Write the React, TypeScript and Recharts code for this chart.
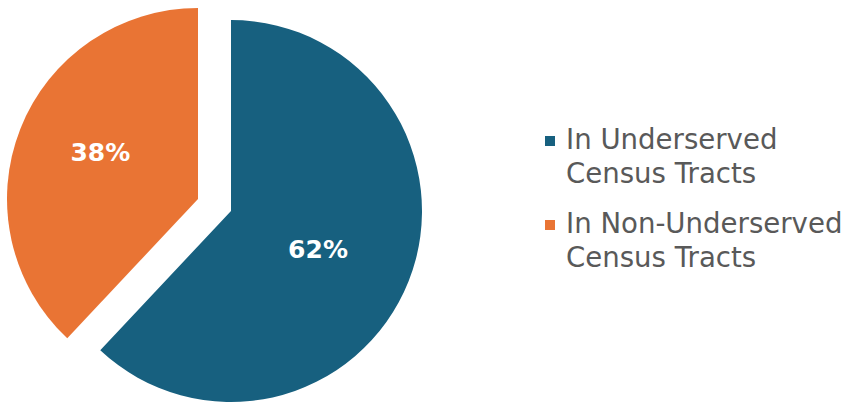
import React from "react";
import { Cell, Legend, Pie, PieChart } from "recharts";

const categories = ["In Underserved Census Tracts", "In Non-Underserved Census Tracts"];
const legendLines = [
  ["In Underserved", "Census Tracts"],
  ["In Non-Underserved", "Census Tracts"],
];
const values = [62, 38];
const colors = ["#17607f", "#e97434"];

const data = categories.map((name, i) => ({ name, value: values[i] }));

const RAD = Math.PI / 180;

// only the slice with index `show` is drawn by each pie; the other one is exploded
function makeLabel(show: number, frac: number, dy: number) {
  return (props: any) => {
    if (props.index !== show) return null;
    const { cx, cy, midAngle, outerRadius, value } = props;
    const r = outerRadius * frac;
    const x = cx + r * Math.cos(-midAngle * RAD);
    const y = cy + r * Math.sin(-midAngle * RAD) + dy;
    return (
      <text
        x={x}
        y={y}
        fill="#ffffff"
        textAnchor="middle"
        dominantBaseline="central"
        fontFamily="DejaVu Sans"
        fontWeight="bold"
        fontSize={25}
      >
        {`${value}%`}
      </text>
    );
  };
}

function LegendBox() {
  return (
    <div style={{ fontFamily: "DejaVu Sans", fontSize: 27.6, color: "#595959", lineHeight: "34px" }}>
      {legendLines.map((lines, i) => (
        <div key={i} style={{ display: "flex", marginBottom: 16 }}>
          <div style={{ width: 10, height: 10, background: colors[i], marginTop: 13, marginRight: 11 }} />
          <div>
            {lines.map((l) => (
              <div key={l}>{l}</div>
            ))}
          </div>
        </div>
      ))}
    </div>
  );
}

export default function App() {
  return (
    <div style={{ width: 849, height: 403, background: "#fff" }}>
      <style>{"body{margin:0}"}</style>
      <PieChart width={849} height={403} margin={{ top: 0, right: 0, bottom: 0, left: 0 }}>
        <Pie
          data={data}
          dataKey="value"
          cx={231}
          cy={211}
          outerRadius={191}
          startAngle={90}
          endAngle={-270}
          stroke="none"
          label={makeLabel(0, 0.49, 4)}
          labelLine={false}
          isAnimationActive={false}
        >
          {data.map((d, i) => (
            <Cell key={d.name} fill={i === 0 ? colors[0] : "transparent"} />
          ))}
        </Pie>
        <Pie
          data={data}
          dataKey="value"
          cx={198}
          cy={199}
          outerRadius={191}
          startAngle={90}
          endAngle={-270}
          stroke="none"
          label={makeLabel(1, 0.55, -8)}
          labelLine={false}
          isAnimationActive={false}
        >
          {data.map((d, i) => (
            <Cell key={d.name} fill={i === 1 ? colors[1] : "transparent"} />
          ))}
        </Pie>
        <Legend
          content={() => <LegendBox />}
          wrapperStyle={{ position: "absolute", left: 545, top: 123, width: 304 }}
        />
      </PieChart>
    </div>
  );
}
